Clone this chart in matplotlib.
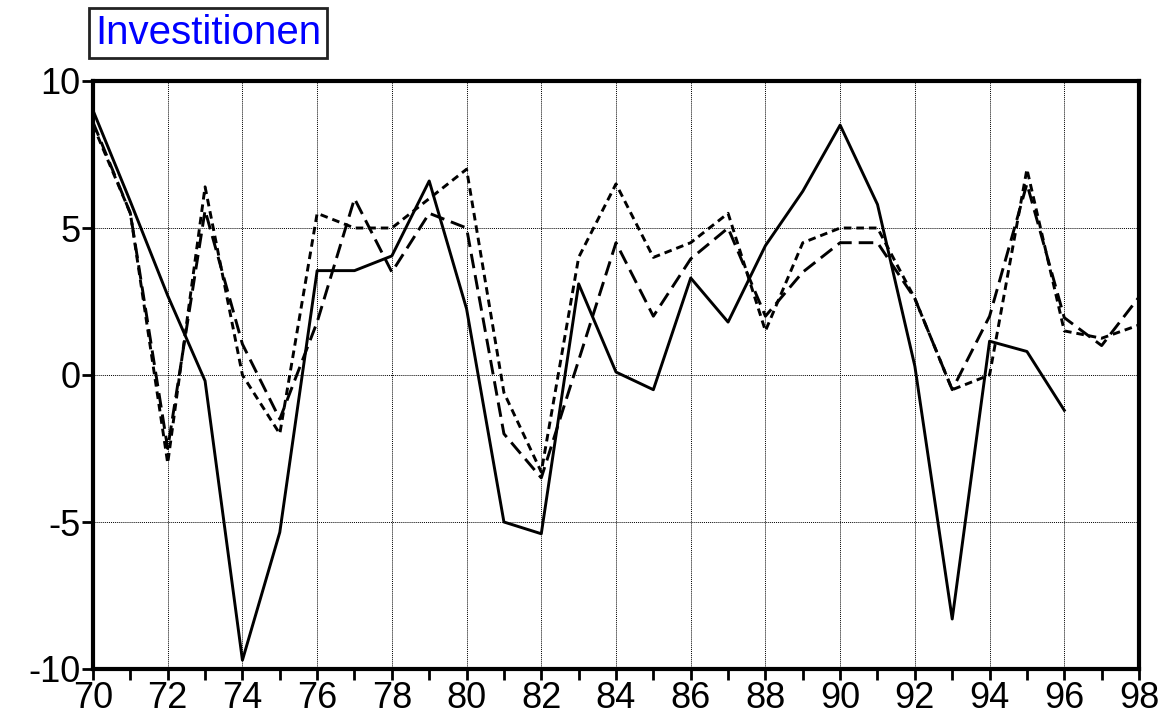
import numpy as np
import matplotlib.pyplot as plt
from matplotlib.ticker import MultipleLocator

# data
years = list(range(70, 99))

# solid series stops at 96
solid = [9.0, 5.9, 2.7, -0.2, -9.7, -5.35, 3.55, 3.55, 4.05, 6.6, 2.25,
         -5.0, -5.4, 3.1, 0.1, -0.5, 3.3, 1.8, 4.4, 6.25, 8.5,
         5.8, 0.3, -8.3, 1.15, 0.8, -1.2]

long_dash = [8.6, 5.5, -2.5, 5.6, 1.05, -1.5, 1.8, 6.0, 3.5, 5.5, 5.0,
             -2.0, -3.5, 0.5, 4.5, 2.0, 3.95, 5.0, 2.0, 3.5, 4.5,
             4.5, 2.6, -0.5, 2.0, 6.5, 1.95, 1.0, 2.65]

short_dash = [8.5, 5.5, -3.0, 6.4, 0.0, -2.0, 5.5, 5.0, 5.0, 6.0, 7.0,
              -0.6, -3.3, 4.0, 6.5, 4.0, 4.5, 5.5, 1.5, 4.5, 5.0,
              5.0, 2.6, -0.5, 0.0, 7.0, 1.5, 1.25, 1.7]

title = "Investitionen"

plt.rcParams["font.family"] = ["Liberation Sans", "DejaVu Sans"]
plt.rcParams["axes.unicode_minus"] = False

fig = plt.figure(figsize=(11.67, 7.18), dpi=100)
ax = fig.add_axes([93 / 1167, 1 - 669 / 718, (1139 - 93) / 1167, (669 - 81) / 718])

lw = 2.1
ax.plot(years[:len(solid)], solid, color="black", lw=lw)
ax.plot(years, long_dash, color="black", lw=lw, dashes=(5, 2.4))
ax.plot(years, short_dash, color="black", lw=lw, dashes=(2.6, 1.7))

ax.set_xlim(70, 98)
ax.set_ylim(-10, 10)
ax.xaxis.set_major_locator(MultipleLocator(2))
ax.xaxis.set_minor_locator(MultipleLocator(1))
ax.yaxis.set_major_locator(MultipleLocator(5))
ax.set_xticklabels([f"{int(t)}" for t in ax.get_xticks()])

ax.grid(True, which="major", color="black", linestyle=(0, (1, 1)), linewidth=0.7)

for s in ax.spines.values():
    s.set_linewidth(3)
ax.tick_params(axis="both", which="major", direction="out", length=8, width=2,
               labelsize=26, pad=1)
ax.tick_params(axis="x", which="minor", direction="out", length=8, width=2)

fig.text(95 / 1167, 1 - 33 / 718, title, color="#0000ff", fontsize=29,
         va="center", ha="left",
         bbox=dict(facecolor="white", edgecolor="#222222", linewidth=2,
                   boxstyle="square,pad=0.15"))

fig.savefig("out.png", dpi=100)
